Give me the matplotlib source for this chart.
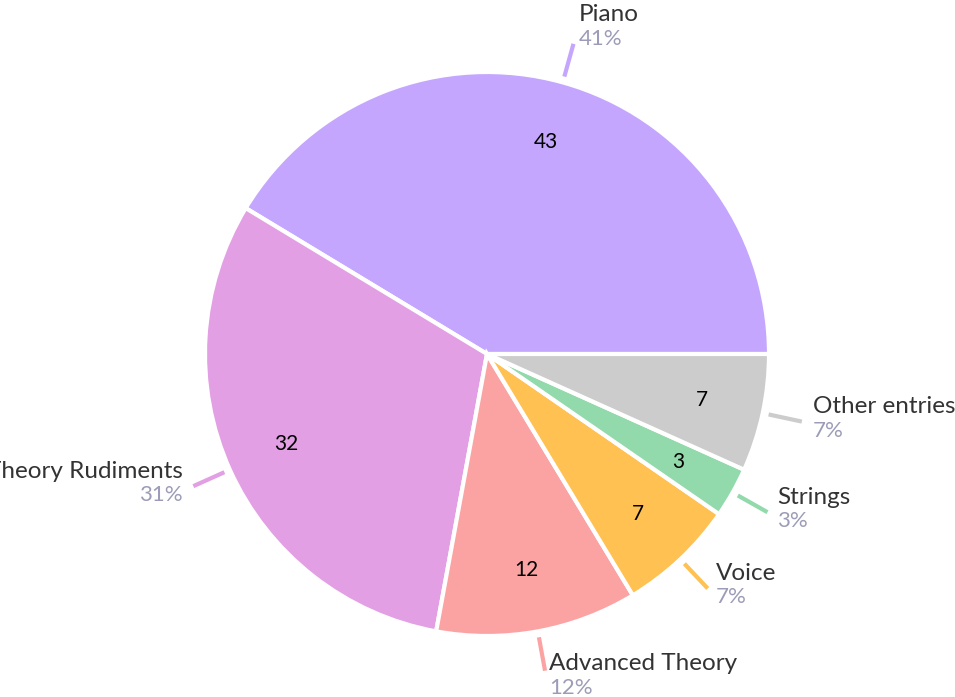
import numpy as np
import matplotlib.pyplot as plt

categories = ["Piano", "Theory Rudiments", "Advanced Theory", "Voice", "Strings", "Other entries"]
values = [43, 32, 12, 7, 3, 7]
percent_labels = ["41%", "31%", "12%", "7%", "3%", "7%"]
colors = ["#C5A6FF", "#E29FE4", "#FBA3A3", "#FFC152", "#92D9AB", "#CCCCCC"]

plt.rcParams['font.family'] = ['Lato', 'DejaVu Sans']

W, H = 955, 697
fig = plt.figure(figsize=(W / 100, H / 100), dpi=100)
ax = fig.add_axes([0, 0, 1, 1])

cx, cy, R = 487, H - 354, 282

wedges, _ = ax.pie(values, colors=colors, startangle=0, counterclock=True,
                   center=(cx, cy), radius=R, frame=True,
                   wedgeprops=dict(edgecolor='white', linewidth=3))
ax.set_xlim(0, W)
ax.set_ylim(0, H)
ax.set_aspect('equal')
ax.axis('off')

for w, val, name, pct, col in zip(wedges, values, categories, percent_labels, colors):
    ang = np.deg2rad((w.theta1 + w.theta2) / 2)
    c, s = np.cos(ang), np.sin(ang)
    # value inside slice
    ax.text(cx + 0.78 * R * c, cy + 0.78 * R * s, str(val), ha='center', va='center',
            fontsize=15, color='black')
    # leader line
    r1, r2 = R + 6, R + 40
    x1, y1 = cx + r1 * c, cy + r1 * s
    x2, y2 = cx + r2 * c, cy + r2 * s
    ax.plot([x1, x2], [y1, y2], color=col, lw=3, solid_capstyle='butt')
    right = c >= 0
    gap = 3 + 8 * abs(c)
    tx = x2 + (gap if right else -gap)
    ha = 'left' if right else 'right'
    shift = 14 if s > 0.8 else (-8 if s < -0.8 else 0)
    ax.text(tx, y2 + 15 + shift, name, ha=ha, va='center', fontsize=17.5, color='#333333')
    ax.text(tx, y2 - 9 + shift, pct, ha=ha, va='center', fontsize=16, color='#9D9CB8')

fig.savefig("out.png", dpi=100)
